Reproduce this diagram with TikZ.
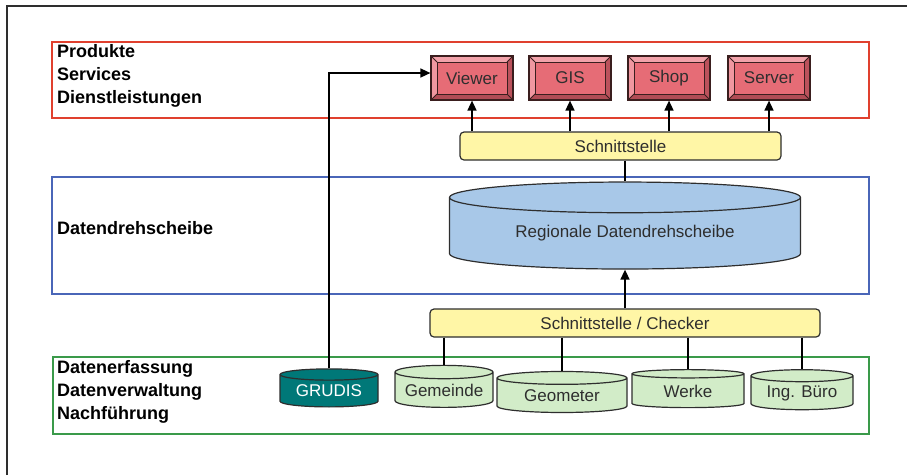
\documentclass[tikz,border=0pt]{standalone}
\usepackage{fontspec}
\setmainfont{Liberation Sans}
\usetikzlibrary{shapes.geometric,arrows.meta,positioning}

\definecolor{redline}{HTML}{E0402E}
\definecolor{blueline}{HTML}{4A66B8}
\definecolor{greenline}{HTML}{3A9A4A}
\definecolor{prodfill}{HTML}{E66C76}
\definecolor{prodlight}{HTML}{F2A2AA}
\definecolor{proddark}{HTML}{B04C55}
\definecolor{prodedge}{HTML}{3A1E1E}
\definecolor{ifacefill}{HTML}{FFF6A6}
\definecolor{hubfill}{HTML}{A8C8E8}
\definecolor{storefill}{HTML}{D2ECC8}
\definecolor{grudisfill}{HTML}{007878}
\definecolor{inkgray}{HTML}{2E2E2E}

\tikzset{
  layer/.style={line width=2.5pt},
  lbl/.style={font=\bfseries\fontsize{18}{23}\selectfont, align=left, anchor=west, inner sep=0pt, text=black},
  iface/.style={draw=inkgray, fill=ifacefill, rounded corners=4pt, line width=1.2pt,
    minimum height=28pt, font=\fontsize{17}{20}\selectfont, text=inkgray},
  product/.style={draw=prodedge, fill=prodfill, line width=1.2pt, minimum width=82pt,
    minimum height=44pt, inner sep=0pt, font=\fontsize{17}{20}\selectfont, text=inkgray,
    path picture={
      \fill[prodlight] (path picture bounding box.north west) -- (path picture bounding box.north east)
        -- ([shift={(-6pt,-6pt)}]path picture bounding box.north east)
        -- ([shift={(6pt,-6pt)}]path picture bounding box.north west) -- cycle;
      \fill[prodlight!80!prodfill] (path picture bounding box.north west) -- (path picture bounding box.south west)
        -- ([shift={(6pt,6pt)}]path picture bounding box.south west)
        -- ([shift={(6pt,-6pt)}]path picture bounding box.north west) -- cycle;
      \fill[proddark] (path picture bounding box.south west) -- (path picture bounding box.south east)
        -- ([shift={(-6pt,6pt)}]path picture bounding box.south east)
        -- ([shift={(6pt,6pt)}]path picture bounding box.south west) -- cycle;
      \fill[proddark!80!prodfill] (path picture bounding box.north east) -- (path picture bounding box.south east)
        -- ([shift={(-6pt,6pt)}]path picture bounding box.south east)
        -- ([shift={(-6pt,-6pt)}]path picture bounding box.north east) -- cycle;
      \draw[prodedge, line width=0.8pt] ([shift={(6pt,-6pt)}]path picture bounding box.north west)
        rectangle ([shift={(-6pt,6pt)}]path picture bounding box.south east);
      \draw[prodedge, line width=0.8pt] (path picture bounding box.north west) -- ++(6pt,-6pt)
        (path picture bounding box.north east) -- ++(-6pt,-6pt)
        (path picture bounding box.south west) -- ++(6pt,6pt)
        (path picture bounding box.south east) -- ++(-6pt,6pt);
    }},
  store/.style={cylinder, shape border rotate=90, draw=inkgray, line width=1.2pt,
    fill=storefill, inner sep=0pt, font=\fontsize{17}{20}\selectfont, text=inkgray},
  link/.style={line width=1.6pt},
  flow/.style={line width=1.6pt, -{Triangle[length=10pt,width=9pt]}},
}

\begin{document}
\begin{tikzpicture}[x=1pt, y=-1pt]
  \useasboundingbox (0,0) rectangle (907,475);
  \draw[inkgray, line width=1.4pt] (7,475) -- (7,6) -- (907,6);

  % layers
  \draw[layer, redline] (52,42) rectangle (869,118);
  \draw[layer, blueline] (52,177) rectangle (869,294);
  \draw[layer, greenline] (53,357) rectangle (869,434);

  \node[lbl] (prodlbl) at (57,76) {Produkte\\Services\\Dienstleistungen};
  \node[lbl] (hublbl) at (57,228) {Datendrehscheibe};
  \node[lbl] (datalbl) at (57,392) {Datenerfassung\\Datenverwaltung\\Nachführung};

  % products
  \foreach \n/\x/\t in {viewer/472/Viewer, gis/570/GIS, shop/669/Shop, server/769/Server}
    \node[product] (\n) at (\x,78) {\t};

  \node[iface, minimum width=321pt] (schnitt) at (620.5,146) {Schnittstelle};
  \node[store, fill=hubfill, minimum width=351pt, minimum height=87pt, aspect=0.14] (hub) at (625,233.5) {Regionale Datendrehscheibe};
  \node[iface, minimum width=390pt] (checker) at (625,323) {Schnittstelle / Checker};

  % sources
  \node[store, fill=grudisfill, text=white, minimum width=98pt, minimum height=38pt, aspect=0.17] (grudis) at (329,391) {GRUDIS};
  \foreach \n/\x/\y/\w/\h/\t in {gemeinde/444/390/98/42/Gemeinde, geometer/562/395.5/130/41/Geometer,
      werke/688/391/112/38/Werke, ingbuero/802/393/102/40/Ing. Büro}
    \node[store, minimum width=\w pt, minimum height=\h pt, aspect=0.17] (\n) at (\x,\y) {\t};

  \foreach \n in {viewer, gis, shop, server}
    \draw[flow] (schnitt.north -| \n.south) -- (\n.south);
  \draw[link] (schnitt.south -| hub.north) -- (hub.north);
  \draw[flow] (checker.north) -- (hub.south);
  \foreach \n in {gemeinde, geometer, werke, ingbuero}
    \draw[link] (checker.south -| \n.north) -- (\n.north);
  \draw[flow] (grudis.north) |- ([yshift=5pt]viewer.west);
\end{tikzpicture}
\end{document}
